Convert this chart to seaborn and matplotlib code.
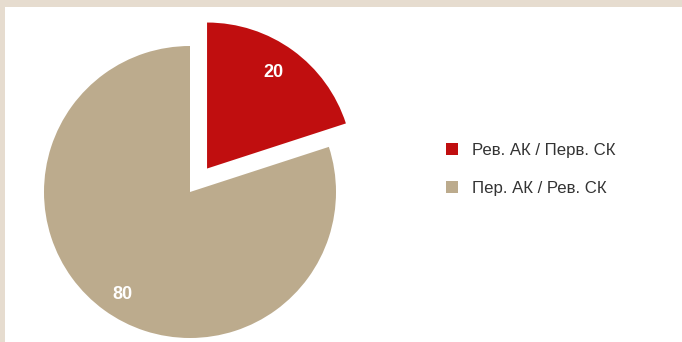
import matplotlib
matplotlib.use("Agg")
import matplotlib.pyplot as plt
from matplotlib.patches import Rectangle, Patch
import seaborn as sns

categories = ["Рев. АК / Перв. СК", "Пер. АК / Рев. СК"]
values = [20, 80]
colors = ["#c00e0f", "#bcab8d"]

sns.set_theme(style="white")
plt.rcParams["font.family"] = ["Liberation Sans", "DejaVu Sans"]

W, H = 682, 342
fig = plt.figure(figsize=(W / 100, H / 100), dpi=100, facecolor="white")

# beige frame
border = "#e6dccf"
fig.patches.append(Rectangle((0, 1 - 7 / H), 1, 7 / H, transform=fig.transFigure,
                             facecolor=border, edgecolor="none", zorder=0))
fig.patches.append(Rectangle((0, 0), 5 / W, 1, transform=fig.transFigure,
                             facecolor=border, edgecolor="none", zorder=0))

ax = fig.add_axes([0, 0, 1, 1])
ax.set_facecolor("none")
cx, cy, r = 190, H - 192, 146
wedges, texts, autotexts = ax.pie(
    values, colors=colors, startangle=90, counterclock=False,
    explode=[29, 0], center=(cx, cy), radius=r,
    autopct=lambda p: f"{p:.0f}", pctdistance=0.83,
    wedgeprops=dict(linewidth=0),
    textprops=dict(color="white", fontsize=13, fontweight="bold"),
)
# small label nudges
for t, (dx, dy) in zip(autotexts, [(-5, -2), (4, -4)]):
    x, y = t.get_position()
    t.set_position((x + dx, y + dy))

ax.set_xlim(0, W)
ax.set_ylim(0, H)
ax.set_aspect("equal")
ax.axis("off")

handles = [Patch(facecolor=c, edgecolor="none") for c in colors]
leg = fig.legend(handles, categories, loc="center left",
                 bbox_to_anchor=(439.5 / W, 1 - 169.5 / H), frameon=False,
                 fontsize=12.1, handlelength=0.68, handleheight=0.68,
                 handletextpad=0.85, labelspacing=1.37, borderaxespad=0)
for t in leg.get_texts():
    t.set_color("#333333")

fig.savefig("out.png", dpi=100, facecolor="white")
